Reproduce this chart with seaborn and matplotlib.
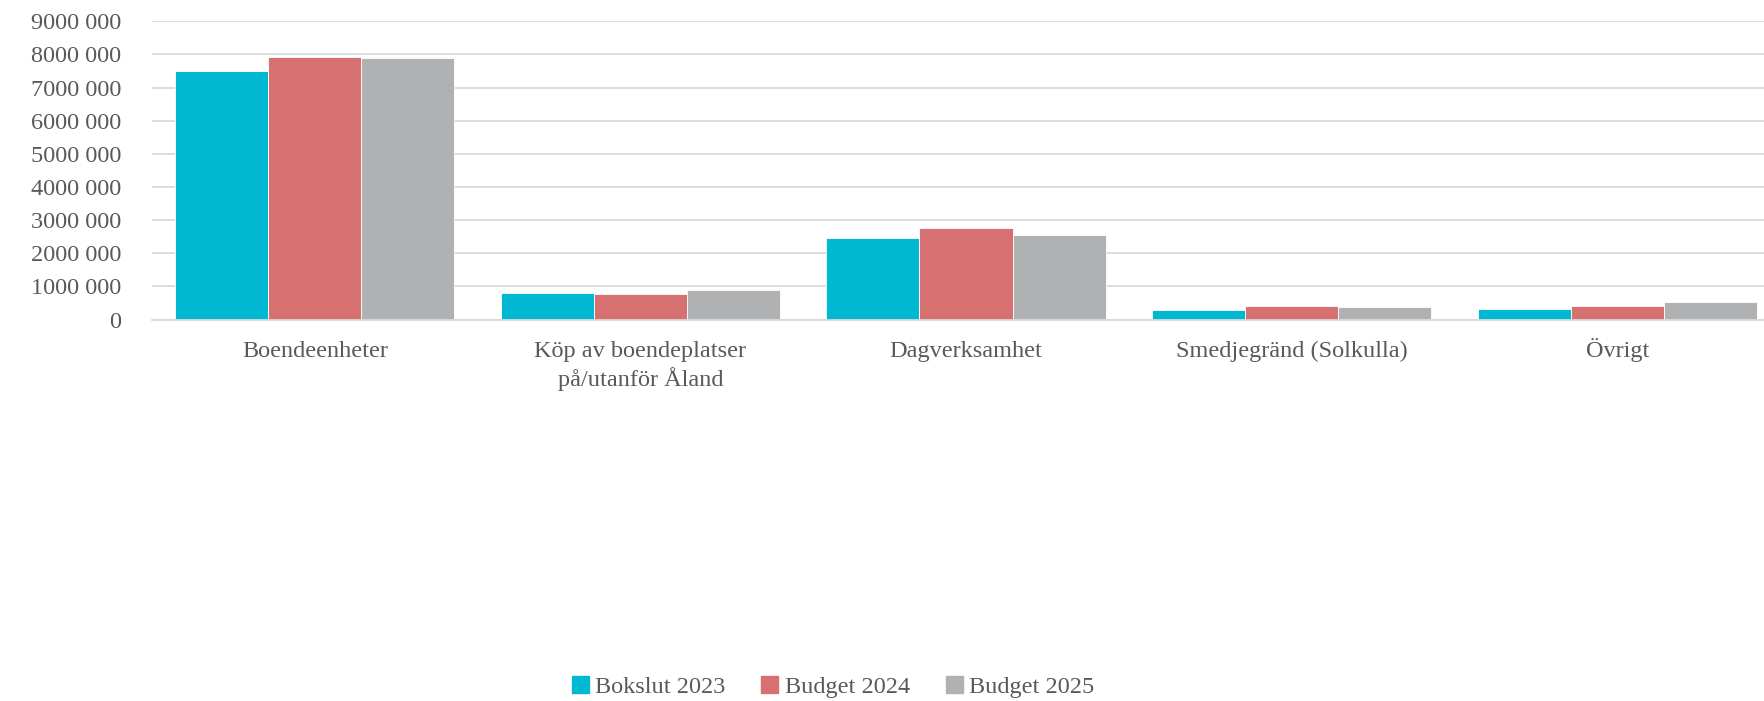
import pandas as pd
import matplotlib
matplotlib.use("Agg")
import matplotlib.pyplot as plt
import matplotlib.transforms as mtransforms
import seaborn as sns

# Data
categories = ["Boendeenheter", "Köp av boendeplatser\npå/utanför Åland", "Dagverksamhet",
              "Smedjegränd (Solkulla)", "Övrigt"]
bokslut_2023 = [7510000, 790000, 2460000, 300000, 310000]
budget_2024 = [7910000, 770000, 2750000, 400000, 420000]
budget_2025 = [7890000, 900000, 2540000, 390000, 540000]
series_names = ["Bokslut 2023", "Budget 2024", "Budget 2025"]
yticks = [0, 1000000, 2000000, 3000000, 4000000, 5000000, 6000000, 7000000, 8000000, 9000000]

colors = ["#00B8D1", "#D77071", "#B0B1B3"]
text_color = "#595959"
grid_color = "#D9D9D9"

rows = []
for name, vals in zip(series_names, [bokslut_2023, budget_2024, budget_2025]):
    for cat, v in zip(categories, vals):
        rows.append({"Kategori": cat, "Belopp": v, "Serie": name})
df = pd.DataFrame(rows)

sns.set_style("white")
plt.rcParams['font.family'] = ['Liberation Serif', 'DejaVu Serif']

fig = plt.figure(figsize=(17.65, 7.01), dpi=100)
# axes extends slightly past the right edge, as in the cropped original
ax = fig.add_axes([152 / 1765, 1 - 319.5 / 701, 1628 / 1765, 298.2 / 701])

sns.barplot(data=df, x="Kategori", y="Belopp", hue="Serie", order=categories,
            hue_order=series_names, palette=colors, width=0.857, ax=ax,
            edgecolor="white", linewidth=0.6, saturation=1, legend=False)

ax.set_xlim(-0.5, 4.5)
ax.set_ylim(0, 9000000)
ax.set_yticks(yticks)
ax.yaxis.set_major_formatter(plt.FuncFormatter(
    lambda v, p: "0" if v == 0 else f"{int(v // 1000)} 000"))
ax.grid(axis="y", color=grid_color, linewidth=1.3)
ax.set_axisbelow(True)
for s in ["top", "right", "left"]:
    ax.spines[s].set_visible(False)
ax.spines["bottom"].set_color(grid_color)
ax.spines["bottom"].set_linewidth(1.3)

ax.tick_params(axis="y", length=0, pad=22, labelsize=17.5, labelcolor=text_color)
ax.tick_params(axis="x", length=0, labelbottom=False)
ax.set_xlabel("")
ax.set_ylabel("")

# category labels drawn line by line on a common baseline
trans = ax.get_xaxis_transform()
for xpos, cat in zip(ax.get_xticks(), categories):
    for i, line in enumerate(cat.split("\n")):
        off = mtransforms.offset_copy(trans, fig=fig, x=0, y=-(37.5 + 29 * i), units="dots")
        ax.text(xpos, 0, line, transform=off, ha="center", va="baseline",
                fontsize=17.5, color=text_color)

handles = [plt.Rectangle((0, 0), 1, 1, color=c) for c in colors]
fig.legend(handles, series_names, loc="center", bbox_to_anchor=(833 / 1765, 1 - 687 / 701),
           ncol=3, frameon=False, fontsize=17.5, labelcolor=text_color,
           handlelength=0.7, handleheight=0.7, handletextpad=0.25, columnspacing=1.5)

fig.savefig("out.png", dpi=100)
